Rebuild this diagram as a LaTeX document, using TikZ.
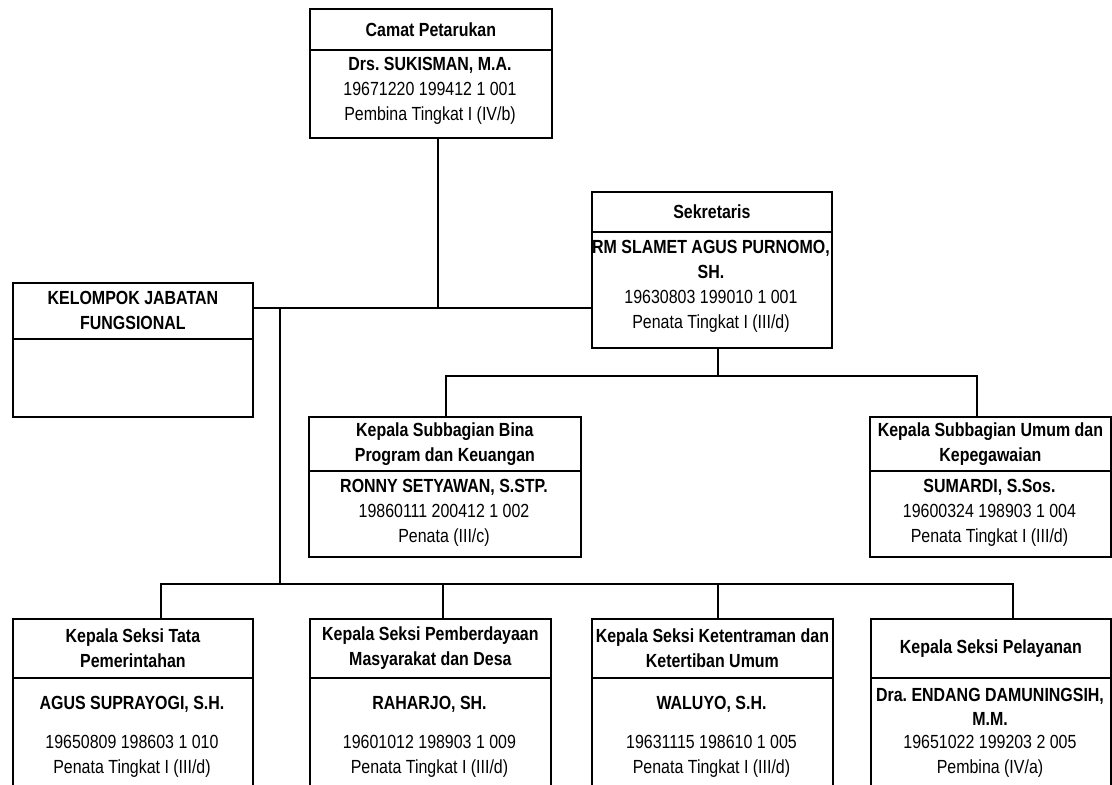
\documentclass[tikz,border=0pt]{standalone}
\usepackage{fontspec}
\setmainfont[FakeStretch=0.84]{Liberation Sans}
\newcommand{\fs}{\fontsize{19}{25}\selectfont\frenchspacing}
\tikzset{
  box/.style={draw, line width=1.8pt, anchor=north west, inner sep=0pt, align=center, font=\fs\bfseries},
  conn/.style={line width=1.5pt},
  txt/.style={align=center, inner sep=0pt, font=\fs, anchor=base},
  btxt/.style={txt, font=\fs\bfseries},
}
\begin{document}
\begin{tikzpicture}[x=1pt,y=-1pt]
\useasboundingbox (0,0) rectangle (1112,785);
\clip (0,0) rectangle (1112,785);
% Camat
\node[box, minimum width=242pt, minimum height=41pt] (camatH) at (309,8) {Camat Petarukan};
\node[box, minimum width=242pt, minimum height=88pt] (camatB) at (309,49) {};
\node[btxt] (camatN) at (430,70) {Drs. SUKISMAN, M.A.};
\node[txt] (camatI) at (430,120) {19671220 199412 1 001\\Pembina Tingkat I (IV/b)};
% Sekretaris
\node[box, minimum width=240pt, minimum height=40pt] (sekH) at (591,191) {Sekretaris};
\node[box, minimum width=240pt, minimum height=116pt] (sekB) at (591,231) {};
\node[btxt] (sekN) at (711,278) {RM SLAMET AGUS PURNOMO,\\SH.};
\node[txt] (sekI) at (711,328) {19630803 199010 1 001\\Penata Tingkat I (III/d)};
% KJF
\node[box, minimum width=240pt, minimum height=56pt] (kjfH) at (12,282) {KELOMPOK JABATAN\\FUNGSIONAL};
\node[box, minimum width=240pt, minimum height=78pt] (kjfB) at (12,338) {};
% Bina
\node[box, minimum width=272pt, minimum height=54pt] (binaH) at (308,416) {Kepala Subbagian Bina\\Program dan Keuangan};
\node[box, minimum width=272pt, minimum height=86pt] (binaB) at (308,470) {};
\node[btxt] (binaN) at (444,492) {RONNY SETYAWAN, S.STP.};
\node[txt] (binaI) at (444,542) {19860111 200412 1 002\\Penata (III/c)};
% Umum
\node[box, minimum width=241pt, minimum height=54pt] (umumH) at (869,416) {Kepala Subbagian Umum dan\\Kepegawaian};
\node[box, minimum width=241pt, minimum height=86pt] (umumB) at (869,470) {};
\node[btxt] (umumN) at (989.5,492) {SUMARDI, S.Sos.};
\node[txt] (umumI) at (989.5,542) {19600324 198903 1 004\\Penata Tingkat I (III/d)};
% Bottom row
\node[box, minimum width=240pt, minimum height=59pt] (tataH) at (12,618) {Kepala Seksi Tata\\Pemerintahan};
\node[box, minimum width=240pt, minimum height=130pt] (tataB) at (12,677) {};
\node[btxt] (tataN) at (132,709) {AGUS SUPRAYOGI, S.H.};
\node[txt] (tataI) at (132,773) {19650809 198603 1 010\\Penata Tingkat I (III/d)};
\node[box, minimum width=241pt, minimum height=59pt] (pmdH) at (309,618) {Kepala Seksi Pemberdayaan\\Masyarakat dan Desa};
\node[box, minimum width=241pt, minimum height=130pt] (pmdB) at (309,677) {};
\node[btxt] (pmdN) at (429.5,709) {RAHARJO, SH.};
\node[txt] (pmdI) at (429.5,773) {19601012 198903 1 009\\Penata Tingkat I (III/d)};
\node[box, minimum width=241pt, minimum height=59pt] (tramH) at (591,618) {Kepala Seksi Ketentraman dan\\Ketertiban Umum};
\node[box, minimum width=241pt, minimum height=130pt] (tramB) at (591,677) {};
\node[btxt] (tramN) at (711.5,709) {WALUYO, S.H.};
\node[txt] (tramI) at (711.5,773) {19631115 198610 1 005\\Penata Tingkat I (III/d)};
\node[box, minimum width=240pt, minimum height=59pt] (pelH) at (870,618) {Kepala Seksi Pelayanan};
\node[box, minimum width=240pt, minimum height=130pt] (pelB) at (870,677) {};
\node[btxt, font=\fontsize{19}{24}\selectfont\frenchspacing\bfseries] (pelN) at (990,725) {Dra. ENDANG DAMUNINGSIH,\\M.M.};
\node[txt] (pelI) at (990,773) {19651022 199203 2 005\\Pembina (IV/a)};
% connectors
\coordinate (jc) at (438,308);
\coordinate (jf) at (280,308);
\coordinate (b1) at (161,584);
\coordinate (b2) at (443,584);
\coordinate (b3) at (718,584);
\coordinate (b4) at (1013,584);
\coordinate (s0) at (718,376);
\coordinate (s1) at (446,376);
\coordinate (s2) at (977,376);
\draw[conn] (camatB.south -| jc) -- (jc);
\draw[conn] (kjfH.east |- jc) -- (sekB.west |- jc);
\draw[conn] (jf) -- (jf |- b1);
\draw[conn] (b1 |- tataH.north) -- (b1) -- (b4) -- (b4 |- pelH.north);
\draw[conn] (b2) -- (b2 |- pmdH.north);
\draw[conn] (b3) -- (b3 |- tramH.north);
\draw[conn] (sekB.south -| s0) -- (s0);
\draw[conn] (s1 |- binaH.north) -- (s1) -- (s2) -- (s2 |- umumH.north);
\end{tikzpicture}
\end{document}
